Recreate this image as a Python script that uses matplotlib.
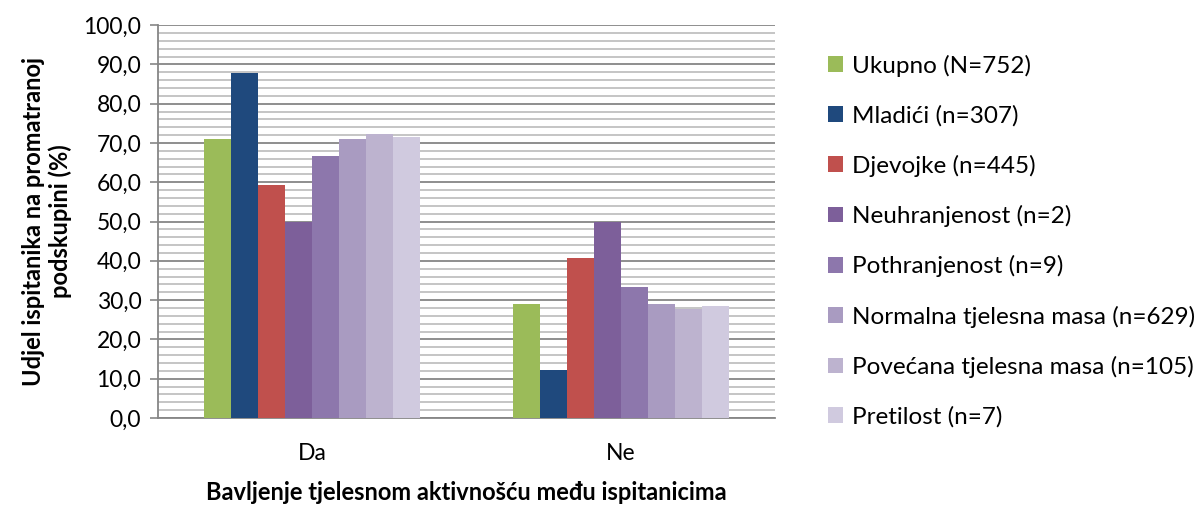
import numpy as np
import matplotlib
matplotlib.use('Agg')
import matplotlib.pyplot as plt
from matplotlib.ticker import MultipleLocator, FuncFormatter

plt.rcParams['font.family'] = ['Lato', 'DejaVu Sans']

categories = ['Da', 'Ne']
series = ['Ukupno (N=752)', 'Mladići (n=307)', 'Djevojke (n=445)',
          'Neuhranjenost (n=2)', 'Pothranjenost (n=9)',
          'Normalna tjelesna masa (n=629)', 'Povećana tjelesna masa (n=105)',
          'Pretilost (n=7)']
da = [71.1, 87.9, 59.4, 50.0, 66.7, 71.0, 72.2, 71.4]
ne = [28.9, 12.1, 40.6, 50.0, 33.3, 29.0, 27.8, 28.6]
colors = ['#9BBB59', '#1F497D', '#C0504D', '#7D5F9A', '#8D77AC',
          '#A99BC1', '#BDB3CF', '#D0CADF']

fig = plt.figure(figsize=(12.02, 5.05), dpi=100)
ax = fig.add_axes([0.1314, 0.1723, 0.5133, 0.778])

n = len(series)
group_w = 0.70
bw = group_w / n
x = np.arange(len(categories))
for i, (name, col) in enumerate(zip(series, colors)):
    vals = [da[i], ne[i]]
    ax.bar(x - group_w / 2 + bw * (i + 0.5), vals, width=bw, color=col,
           label=name, zorder=3, linewidth=0)

ax.set_xlim(-0.5, 1.5)
ax.set_ylim(0, 100)
ax.yaxis.set_major_locator(MultipleLocator(10))
ax.yaxis.set_minor_locator(MultipleLocator(2))
ax.yaxis.set_major_formatter(FuncFormatter(lambda v, p: f'{v:.1f}'.replace('.', ',')))
ax.grid(axis='y', which='major', color='#868686', lw=1.3, zorder=1)
ax.grid(axis='y', which='minor', color='#C0C0C0', lw=1.3, zorder=1)
ax.set_xticks(x)
ax.set_xticklabels(categories)
ax.tick_params(axis='x', length=0, pad=18, labelsize=16.5)
ax.tick_params(axis='y', which='major', length=6, width=1.2, color='#868686',
               labelsize=16.5, pad=6)
ax.tick_params(axis='y', which='minor', length=0)
for s in ('top', 'right'):
    ax.spines[s].set_visible(False)
for s in ('left', 'bottom'):
    ax.spines[s].set_color('#868686')
    ax.spines[s].set_linewidth(1.3)

ax.set_ylabel('Udjel ispitanika na promatranoj\npodskupini (%)',
              fontsize=17, fontweight='bold', labelpad=8)
ax.set_xlabel('Bavljenje tjelesnom aktivnošću među ispitanicima',
              fontsize=17, fontweight='bold', labelpad=12)

leg = fig.legend(loc='upper left', bbox_to_anchor=(0.671, 0.935),
                 frameon=False, fontsize=17.5, handlelength=0.62,
                 handleheight=0.62, handletextpad=0.33, labelspacing=1.16)

fig.savefig('out.png', dpi=100)
